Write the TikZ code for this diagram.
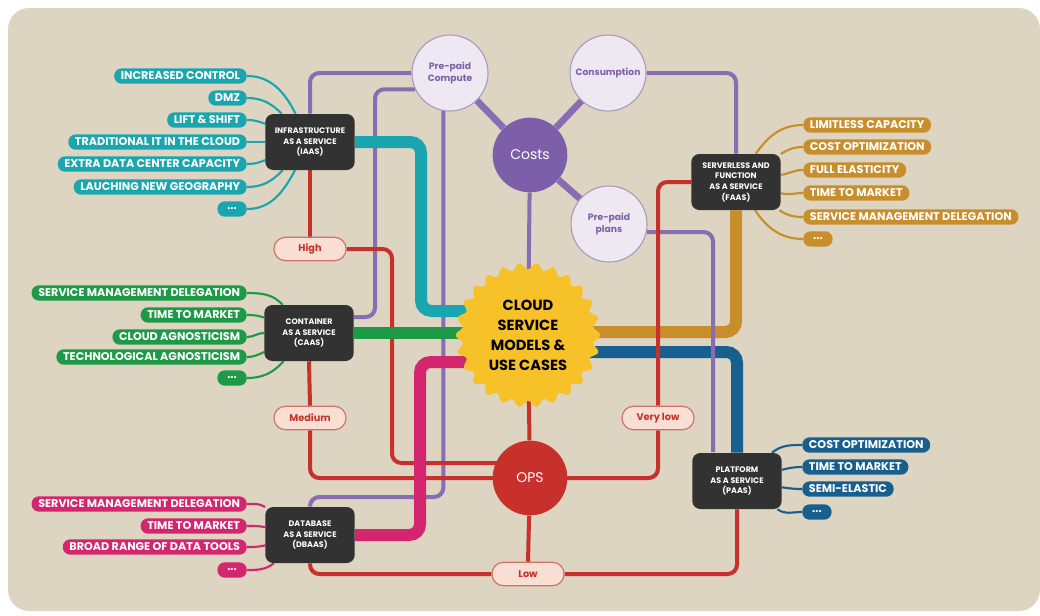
\documentclass[tikz,border=0pt]{standalone}
\usepackage{fontspec}
\setmainfont{Poppins}
\usetikzlibrary{calc}

\definecolor{bgbeige}{HTML}{DDD4C1}
\definecolor{tealC}{HTML}{1AA6AF}
\definecolor{greenC}{HTML}{1E9A47}
\definecolor{pinkC}{HTML}{D4256F}
\definecolor{goldC}{HTML}{C98E2C}
\definecolor{blueC}{HTML}{175F8E}
\definecolor{purpleL}{HTML}{8A6CB2}
\definecolor{purpleF}{HTML}{7C5FA8}
\definecolor{lilac}{HTML}{EEE8F2}
\definecolor{lilacB}{HTML}{A897BF}
\definecolor{redC}{HTML}{C7302B}
\definecolor{pinkLbl}{HTML}{F8DED3}
\definecolor{pinkLblB}{HTML}{CF7468}
\definecolor{boxgray}{HTML}{323232}
\definecolor{sunC}{HTML}{F7C12A}

\pgfdeclarelayer{backdrop}
\pgfdeclarelayer{thicklayer}
\pgfdeclarelayer{thinlayer}
\pgfsetlayers{backdrop,thicklayer,thinlayer,main}

\newcommand\leaffont{\bfseries\fontsize{8.4}{9}\selectfont}
\newcommand\boxfont{\bfseries\fontsize{6}{8}\selectfont}
\newcommand\moredots{...}

\begin{document}
\begin{tikzpicture}[x=0.75pt,y=-0.75pt,
  leafL/.style={fill=#1, text=white, font=\leaffont, rounded corners=5.5pt,
    minimum height=11.5pt, minimum width=22pt, inner xsep=5pt, inner ysep=0pt, anchor=east},
  leafR/.style={leafL=#1, anchor=west},
  leafline/.style={line width=1.6pt},
  svcbox/.style={fill=boxgray, text=white, rounded corners=6pt, minimum width=67pt,
    minimum height=42pt, align=center, font=\boxfont, inner sep=1pt},
  costcircle/.style={circle, fill=lilac, draw=lilacB, line width=0.8pt, minimum size=57pt,
    inner sep=0pt, text=purpleF, align=center, font=\bfseries\fontsize{6.9}{8.5}\selectfont},
  hubcircle/.style={circle, fill=#1, minimum size=56pt, inner sep=0pt, text=white,
    font=\fontsize{10.5}{12}\selectfont},
  lvl/.style={fill=pinkLbl, draw=pinkLblB, line width=0.9pt, rounded corners=8.5pt,
    minimum width=54pt, minimum height=17.5pt, inner sep=0pt, text=redC,
    font=\bfseries\fontsize{7.3}{8}\selectfont},
  thickline/.style={line width=9pt, rounded corners=8pt},
  thinline/.style={line width=3pt, rounded corners=7pt},
  spoke/.style={line width=5pt, purpleL}
]
\useasboundingbox (0,0) rectangle (1040,615);

\begin{pgfonlayer}{backdrop}
  \fill[white] (0,0) rectangle (1040,615);
  \fill[bgbeige, rounded corners=16pt] (8,8) rectangle (1040,611);
\end{pgfonlayer}

% service boxes
\node[svcbox] (iaas)  at (310,142) {INFRASTRUCTURE\\AS A SERVICE\\(IAAS)};
\node[svcbox] (caas)  at (309,333) {CONTAINER\\AS A SERVICE\\(CAAS)};
\node[svcbox] (dbaas) at (310,535) {DATABASE\\AS A SERVICE\\(DBAAS)};
\node[svcbox] (faas)  at (736,182) {SERVERLESS AND\\FUNCTION\\AS A SERVICE\\(FAAS)};
\node[svcbox] (paas)  at (737,481) {PLATFORM\\AS A SERVICE\\(PAAS)};

% cost circles
\node[costcircle] (pc)   at (450,73)  {Pre-paid\\Compute};
\node[costcircle] (cons) at (608,73)  {Consumption};
\node[costcircle] (pp)   at (609,224) {Pre-paid\\plans};
\node[hubcircle=purpleF] (costs) at (530,155) {Costs};
\node[hubcircle=redC]    (ops)   at (530,478) {OPS};

% effort levels
\node[lvl] (high)    at (310,249) {High};
\node[lvl] (medium)  at (310,418) {Medium};
\node[lvl] (verylow) at (658,418) {Very low};
\node[lvl] (low)     at (528,574) {Low};

% bend points
\coordinate (starC) at (528,335);
\coordinate (tealBend) at (421,311);
\coordinate (pinkBend) at (420,362);
\coordinate (goldBend) at (737,332);
\coordinate (blueBend) at (737,352);
\coordinate (pv2) at (375,317);
\coordinate (pv3) at (310,497);
\coordinate (pv6) at (713,452);
\coordinate (rv2) at (392,463);

% thick model lines
\begin{pgfonlayer}{thicklayer}
  \draw[thickline, goldC] (starC |- goldBend) -| (faas.south);
  \draw[thickline, blueC] (starC |- blueBend) -| (paas.north);
\end{pgfonlayer}

\begin{pgfonlayer}{thinlayer}
  % cost links
  \draw[thinline, purpleL] (pc.west) -| (iaas.north);
  \draw[thinline, purpleL] (pc.205) -| (pv2) -- (caas.east |- pv2);
  \draw[thinline, purpleL] (pc.260) |- (pv3) -- (dbaas.north);
  \draw[thinline, purpleL] (costs) -- (starC);
  \draw[thinline, purpleL] (cons.east) -| (faas.north);
  \draw[thinline, purpleL] (pp.348) -| (pv6);
  \draw[spoke] (costs) -- (pc);
  \draw[spoke] (costs) -- (cons);
  \draw[spoke] (costs) -- (pp);
  % ops links
  \draw[thinline, redC] (iaas.south) -- (high.north);
  \draw[thinline, redC] (high.east) -| (rv2) -- (ops.center |- rv2);
  \draw[thinline, redC] (caas.south) -- (medium.north);
  \draw[thinline, redC] (medium.south) |- (ops.center);
  \draw[thinline, redC] (ops) -- (starC);
  \draw[thinline, redC] (ops.center) -| (verylow.south);
  \draw[thinline, redC] (verylow.north) |- (faas.west);
  \draw[thinline, redC] (ops) -- (low.north);
  \draw[thinline, redC] (low.west) -| (dbaas.south);
  \draw[thinline, redC] (low.east) -| (paas.south);
  % left thick model lines
  \draw[thickline, tealC] (iaas.east) -| (tealBend) -- (starC |- tealBend);
  \draw[thickline, greenC] (caas.east) -- (starC |- caas.east);
  \draw[thickline, pinkC] (starC |- pinkBend) -- (pinkBend) |- (dbaas.east);
\end{pgfonlayer}

% central badge
\fill[sunC] plot[domain=0:360, samples=400, smooth]
  ({528+(69+3.2*cos(26*\x))*cos(\x)}, {335+(69+3.2*cos(26*\x))*sin(\x)}) -- cycle;
\node[align=center, font=\bfseries\fontsize{11}{15}\selectfont, text=black] (star) at (starC)
  {CLOUD\\SERVICE\\MODELS \&\\USE CASES};

% IaaS use cases
\foreach \yy/\txt/\ang [count=\i] in {76/INCREASED CONTROL/117, 98/DMZ/135, 120/LIFT \& SHIFT/158,
  142/TRADITIONAL IT IN THE CLOUD/180, 164/EXTRA DATA CENTER CAPACITY/202,
  187/LAUCHING NEW GEOGRAPHY/226, 209/\moredots/242}{
  \node[leafL=tealC] (i\i) at (247,\yy) {\txt};
  \begin{pgfonlayer}{thinlayer}
    \draw[leafline, tealC] (i\i.east) to[out=0, in=\ang] (iaas.\ang);
  \end{pgfonlayer}
}
% CaaS use cases
\foreach \yy/\txt/\ang [count=\i] in {293/SERVICE MANAGEMENT DELEGATION/133, 315/TIME TO MARKET/161,
  337/CLOUD AGNOSTICISM/180, 357/TECHNOLOGICAL AGNOSTICISM/203, 378/\moredots/228}{
  \node[leafL=greenC] (c\i) at (247,\yy) {\txt};
  \begin{pgfonlayer}{thinlayer}
    \draw[leafline, greenC] (c\i.east) to[out=0, in=\ang] (caas.\ang);
  \end{pgfonlayer}
}
% DBaaS use cases
\foreach \yy/\txt/\ang [count=\i] in {504/SERVICE MANAGEMENT DELEGATION/148, 526/TIME TO MARKET/170,
  547/BROAD RANGE OF DATA TOOLS/193, 570/\moredots/218}{
  \node[leafL=pinkC] (d\i) at (247,\yy) {\txt};
  \begin{pgfonlayer}{thinlayer}
    \draw[leafline, pinkC] (d\i.east) to[out=0, in=\ang] (dbaas.\ang);
  \end{pgfonlayer}
}
% FaaS use cases
\foreach \yy/\txt/\ang [count=\i] in {125/LIMITLESS CAPACITY/55, 147/COST OPTIMIZATION/32,
  170/FULL ELASTICITY/9, 193/TIME TO MARKET/-14, 217/SERVICE MANAGEMENT DELEGATION/-33, 239/\moredots/-56}{
  \node[leafR=goldC] (f\i) at (803,\yy) {\txt};
  \begin{pgfonlayer}{thinlayer}
    \draw[leafline, goldC] (f\i.west) to[out=180, in=\ang] (faas.\ang);
  \end{pgfonlayer}
}
% PaaS use cases
\foreach \yy/\txt/\ang [count=\i] in {445/COST OPTIMIZATION/39, 467/TIME TO MARKET/14,
  489/SEMI-ELASTIC/-8, 512/\moredots/-35}{
  \node[leafR=blueC] (p\i) at (802,\yy) {\txt};
  \begin{pgfonlayer}{thinlayer}
    \draw[leafline, blueC] (p\i.west) to[out=180, in=\ang] (paas.\ang);
  \end{pgfonlayer}
}
\end{tikzpicture}
\end{document}
